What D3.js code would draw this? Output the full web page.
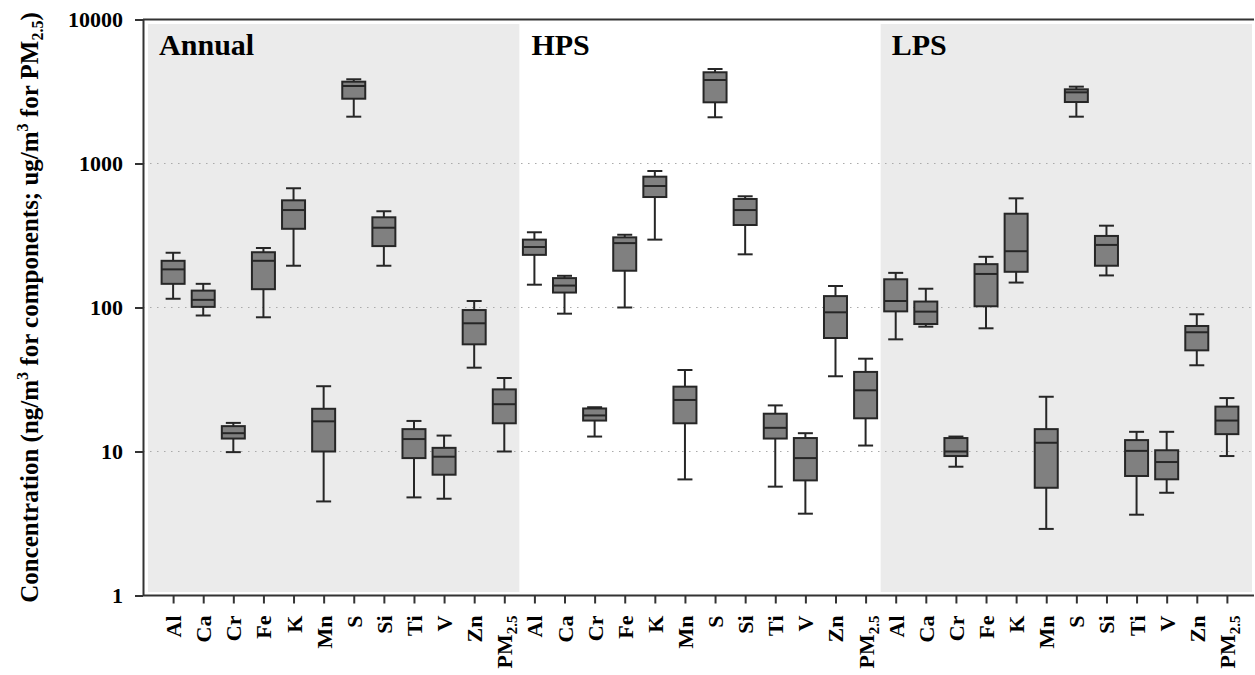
<!DOCTYPE html>
<html><head><meta charset="utf-8">
<script src="https://cdn.jsdelivr.net/npm/d3@7"></script>
<style>
html,body{margin:0;padding:0;background:#fff;}
svg{display:block;font-family:"Liberation Serif","Times New Roman",serif;}
</style></head>
<body><svg id="chart" width="1255" height="675"></svg>
<script>
const categories = ["Al","Ca","Cr","Fe","K","Mn","S","Si","Ti","V","Zn","PM2.5"];
const periods = ["Annual","HPS","LPS"];
// each entry: [lower whisker, Q1, median, Q3, upper whisker]
const annualStats = [
  [115,146,184,211,240],[88,101,113,131,146],[9.9,12.3,13.4,15.0,15.8],[85.5,134,211,242,259],
  [195,352,475,555,673],[4.5,10.0,16.2,19.8,28.4],[2114,2818,3452,3700,3845],[195,267,358,423,466],
  [4.8,9.0,12.2,14.3,16.3],[4.7,6.9,9.2,10.6,12.9],[38.2,55.5,77.7,96,111],[10.0,15.7,21.3,27.0,32.4]
];
const hpsStats = [
  [144,232,263,296,333],[90.6,127,142,160,166],[12.7,16.4,17.8,19.9,20.3],[100,180,280,307,320],
  [296,585,698,810,887],[6.4,15.7,22.8,28.2,36.8],[2094,2660,3800,4300,4530],[234,374,475,567,592],
  [5.7,12.3,14.6,18.3,20.9],[3.7,6.3,9.0,12.4,13.4],[33.3,61.4,92.6,120,141],[11.0,17.0,26.6,35.7,44.1]
];
const lpsStats = [
  [60.1,94,111,157,174],[73.6,76.8,93.6,110,135],[7.84,9.3,10.0,12.4,12.7],[71.7,102,171,200,225],
  [149,177,246,448,573],[2.9,5.6,11.5,14.3,24.0],[2114,2673,3120,3275,3417],[167,195,272,314,370],
  [3.64,6.76,10.1,12.0,13.7],[5.17,6.41,8.45,10.2,13.7],[39.7,50.4,67.3,74.4,89.7],[9.3,13.2,16.4,20.5,23.5]
];
const yTicks = [1,10,100,1000,10000];
const gridValues = [10,100,1000];

const statsByPeriod = [annualStats, hpsStats, lpsStats];
const pLeft = 143, pRight = 1254, pTop = 19.5, pBottom = 595.5;
const FONT = '"Liberation Serif","Times New Roman",serif';
const svg = d3.select("#chart");

const keys = [];
periods.forEach(p => categories.forEach(c => keys.push(p + "|" + c)));
const x = d3.scalePoint().domain(keys).range([pLeft, 1257]).padding(1);
const y = d3.scaleLog().domain([1, 10000]).range([pBottom, pTop]);
const step = x.step();

// panel backgrounds
const panels = [
  {x0: pLeft + 5, x1: x("Annual|PM2.5") + step/2, fill: "#ebebeb"},
  {x0: x("LPS|Al") - step/2, x1: pRight - 2, fill: "#ebebeb"}
];
svg.selectAll("rect.panel").data(panels).enter().append("rect")
  .attr("class","panel")
  .attr("x", d => d.x0).attr("y", pTop + 4.5)
  .attr("width", d => d.x1 - d.x0).attr("height", pBottom - pTop - 8)
  .attr("fill", d => d.fill);

// grid
svg.selectAll("line.grid").data(gridValues).enter().append("line")
  .attr("class","grid")
  .attr("x1", pLeft).attr("x2", pRight)
  .attr("y1", d => y(d)).attr("y2", d => y(d))
  .attr("stroke", "#aaa").attr("stroke-width", 1.2).attr("stroke-dasharray", "1.5,5.5");

// panel titles
const titleX = [x("Annual|Al") - 14, x("HPS|Al") - 3, x("LPS|Al") - 4];
svg.selectAll("text.ptitle").data(periods).enter().append("text")
  .attr("class","ptitle")
  .attr("x", (d,i) => titleX[i]).attr("y", 55)
  .attr("font-family", FONT)
  .attr("font-size", 30).attr("font-weight", "bold").attr("fill", "#000")
  .text(d => d);

// boxes
const boxW = 23, capW = 15;
const records = [];
periods.forEach((p, pi) => categories.forEach((c, ci) => {
  const s = statsByPeriod[pi][ci];
  records.push({key: p + "|" + c, lo: s[0], q1: s[1], med: s[2], q3: s[3], hi: s[4]});
}));
const g = svg.selectAll("g.box").data(records).enter().append("g").attr("class","box")
  .attr("transform", d => `translate(${x(d.key)},0)`);
const dark = "#262626";
g.append("line").attr("x1",0).attr("x2",0).attr("y1", d => y(d.hi)).attr("y2", d => y(d.q3))
  .attr("stroke", dark).attr("stroke-width", 2);
g.append("line").attr("x1",0).attr("x2",0).attr("y1", d => y(d.q1)).attr("y2", d => y(d.lo))
  .attr("stroke", dark).attr("stroke-width", 2);
g.append("line").attr("x1",-capW/2).attr("x2",capW/2).attr("y1", d => y(d.hi)).attr("y2", d => y(d.hi))
  .attr("stroke", dark).attr("stroke-width", 2);
g.append("line").attr("x1",-capW/2).attr("x2",capW/2).attr("y1", d => y(d.lo)).attr("y2", d => y(d.lo))
  .attr("stroke", dark).attr("stroke-width", 2);
g.append("rect").attr("x", -boxW/2).attr("width", boxW)
  .attr("y", d => y(d.q3)).attr("height", d => y(d.q1) - y(d.q3))
  .attr("fill", "#808080").attr("stroke", dark).attr("stroke-width", 2);
g.append("line").attr("x1",-boxW/2).attr("x2",boxW/2).attr("y1", d => y(d.med)).attr("y2", d => y(d.med))
  .attr("stroke", dark).attr("stroke-width", 2);

// axes (lines and ticks from d3 axes; labels drawn separately)
const yAxis = d3.axisLeft(y).tickValues(yTicks).tickFormat("")
  .tickSize(8).tickSizeOuter(0);
const ya = svg.append("g").attr("transform", `translate(${pLeft},0)`).call(yAxis);
ya.selectAll("line").attr("stroke", "#333").attr("stroke-width", 2);
ya.select(".domain").attr("stroke", "#333").attr("stroke-width", 2);
ya.selectAll(".tick text").remove();

svg.selectAll("text.ynum").data(yTicks).enter().append("text")
  .attr("class", "ynum")
  .attr("x", pLeft - 20).attr("y", d => y(d))
  .attr("dy", "0.34em")
  .attr("text-anchor", "end")
  .attr("font-family", FONT).attr("font-size", 22).attr("font-weight", "bold")
  .attr("fill", "#000")
  .text(d => d3.format("d")(d));

const xAxis = d3.axisBottom(x).tickSize(8).tickSizeOuter(0).tickFormat("");
const xa = svg.append("g").attr("transform", `translate(0,${pBottom})`).call(xAxis);
xa.select(".domain").attr("d", `M${pLeft},0H${pRight}`).attr("stroke", "#333").attr("stroke-width", 2);
xa.selectAll("line").attr("stroke", "#333").attr("stroke-width", 2);
xa.selectAll(".tick text").remove();

// rotated category labels: one group rotated -90deg, labels laid out in rotated frame
const labelLayer = svg.append("g").attr("transform", "rotate(-90)");
const xl = labelLayer.selectAll("text").data(keys).enter().append("text")
  .attr("x", -(pBottom + 20))
  .attr("y", d => x(d) + 8)
  .attr("text-anchor", "end")
  .attr("font-family", FONT).attr("font-size", 22).attr("font-weight", "bold")
  .attr("fill", "#000");
xl.each(function(d) {
  const t = d3.select(this);
  const lab = d.split("|")[1];
  if (lab === "PM2.5") {
    t.append("tspan").text("PM");
    t.append("tspan").attr("font-size", 15).attr("dy", 5).text("2.5");
  } else {
    t.text(lab);
  }
});

// top border
svg.append("line").attr("x1", pLeft).attr("x2", pRight).attr("y1", pTop).attr("y2", pTop)
  .attr("stroke", "#333").attr("stroke-width", 2);

// y title
const ytg = svg.append("g").attr("transform", `translate(38,${(pTop+pBottom)/2}) rotate(-90)`);
const yt = ytg.append("text")
  .attr("font-family", FONT)
  .attr("text-anchor", "middle").attr("font-size", 25).attr("font-weight", "bold").attr("fill", "#000");
yt.append("tspan").text("Concentration (ng/m");
yt.append("tspan").attr("font-size", 16).attr("dy", -10).text("3");
yt.append("tspan").attr("dy", 10).text(" for components; ug/m");
yt.append("tspan").attr("font-size", 16).attr("dy", -10).text("3");
yt.append("tspan").attr("dy", 10).text(" for PM");
yt.append("tspan").attr("font-size", 16).attr("dy", 5).text("2.5");
yt.append("tspan").attr("dy", -5).text(")");
</script></body></html>
